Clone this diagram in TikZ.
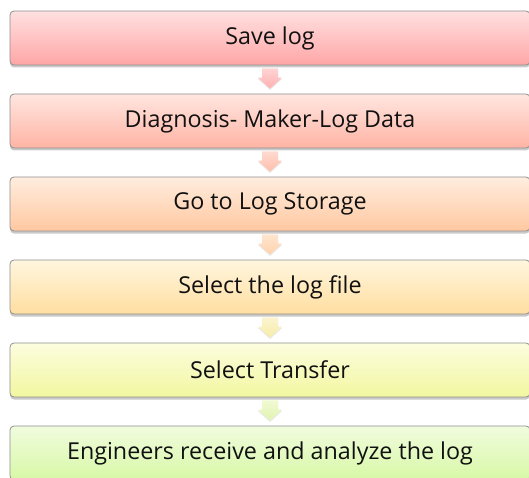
\documentclass[tikz,border=0pt]{standalone}
\usepackage{fontspec}
\setmainfont{Open Sans}
\usetikzlibrary{shadows,calc}
\definecolor{bordc}{HTML}{8F8F8F}
\definecolor{txtc}{HTML}{111111}
\tikzset{
  stepbox/.style={draw=bordc, line width=0.8pt, rounded corners=4pt,
    minimum width=520pt, minimum height=54pt, inner sep=0pt,
    font=\fontsize{23.3}{27}\selectfont, text=txtc,
    drop shadow={shadow xshift=0pt, shadow yshift=-2.5pt, opacity=0.35, fill=black!60}}
}
\newcommand{\flowarr}[4]{% from, to, topcolor, bottomcolor
  \path let \p1=($(#1.south)+(0,-3pt)$), \p2=($(#2.north)+(0,5pt)$) in
    [fill=black!25, opacity=0.35]
    (\x1-8pt,\y1-1.5pt) -- (\x1+8pt,\y1-1.5pt) -- (\x1+8pt,\y2+11pt-1.5pt) -- (\x1+12pt,\y2+11pt-1.5pt)
    -- (\x1,\y2-1.5pt) -- (\x1-12pt,\y2+11pt-1.5pt) -- (\x1-8pt,\y2+11pt-1.5pt) -- cycle;
  \path let \p1=($(#1.south)+(0,-3pt)$), \p2=($(#2.north)+(0,5pt)$) in
    [top color=#3, bottom color=#4, draw=none]
    (\x1-8pt,\y1) -- (\x1+8pt,\y1) -- (\x1+8pt,\y2+11pt) -- (\x1+12pt,\y2+11pt)
    -- (\x1,\y2) -- (\x1-12pt,\y2+11pt) -- (\x1-8pt,\y2+11pt) -- cycle;
}
\begin{document}
\begin{tikzpicture}[x=1pt,y=1pt]
\useasboundingbox (0,0) rectangle (529,477);
\clip (0,0) rectangle (529,477);
\node[stepbox, top color={rgb,255:red,255;green,224;blue,224}, bottom color={rgb,255:red,255;green,166;blue,166}] (b1) at (270,{477-38}) {Save log};
\node[stepbox, top color={rgb,255:red,255;green,230;blue,224}, bottom color={rgb,255:red,255;green,180;blue,164}] (b2) at (270,{477-38-83}) {Diagnosis- Maker-Log Data};
\node[stepbox, top color={rgb,255:red,255;green,237;blue,223}, bottom color={rgb,255:red,255;green,200;blue,160}] (b3) at (270,{477-38-166}) {Go to Log Storage};
\node[stepbox, top color={rgb,255:red,255;green,246;blue,222}, bottom color={rgb,255:red,255;green,222;blue,160}] (b4) at (270,{477-38-249}) {Select the log file};
\node[stepbox, top color={rgb,255:red,252;green,253;blue,222}, bottom color={rgb,255:red,242;green,247;blue,160}] (b5) at (270,{477-38-332}) {Select Transfer};
\node[stepbox, top color={rgb,255:red,240;green,252;blue,222}, bottom color={rgb,255:red,216;green,248;blue,166}] (b6) at (270,{477-38-415}) {Engineers receive and analyze the log};
\flowarr{b1}{b2}{{rgb,255:red,255;green,212;blue,212}}{{rgb,255:red,255;green,176;blue,176}}
\flowarr{b2}{b3}{{rgb,255:red,255;green,218;blue,208}}{{rgb,255:red,255;green,190;blue,172}}
\flowarr{b3}{b4}{{rgb,255:red,255;green,230;blue,208}}{{rgb,255:red,255;green,210;blue,172}}
\flowarr{b4}{b5}{{rgb,255:red,252;green,244;blue,208}}{{rgb,255:red,246;green,236;blue,168}}
\flowarr{b5}{b6}{{rgb,255:red,240;green,250;blue,210}}{{rgb,255:red,224;green,244;blue,176}}
\end{tikzpicture}
\end{document}
